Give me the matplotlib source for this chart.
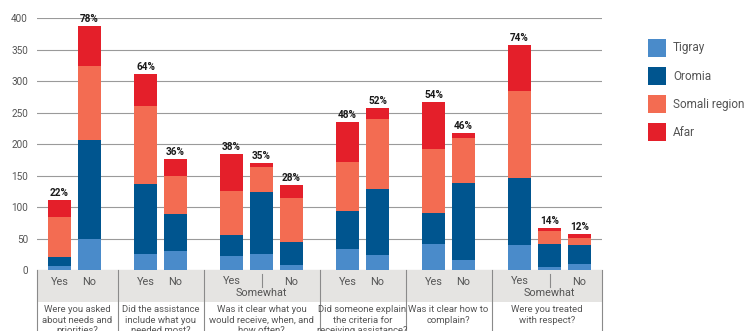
import matplotlib.pyplot as plt
from matplotlib.patches import Rectangle
import numpy as np

plt.rcParams['font.family'] = ['Roboto', 'DejaVu Sans']

# data
questions = [
    "Were you asked\nabout needs and\npriorities?",
    "Did the assistance\ninclude what you\nneeded most?",
    "Was it clear what you\nwould receive, when, and\nhow often?",
    "Did someone explain\nthe criteria for\nreceiving assistance?",
    "Was it clear how to\ncomplain?",
    "Were you treated\nwith respect?",
]
answers = [["Yes", "No"], ["Yes", "No"], ["Yes", "Somewhat", "No"],
           ["Yes", "No"], ["Yes", "No"], ["Yes", "Somewhat", "No"]]
regions = ["Tigray", "Oromia", "Somali region", "Afar"]
tigray = [6, 49, 25, 30, 22, 25, 8, 33, 24, 41, 16, 40, 5, 10]
oromia = [14, 158, 111, 59, 33, 99, 37, 61, 105, 49, 122, 106, 36, 30]
somali = [65, 118, 124, 60, 70, 40, 70, 78, 111, 102, 72, 138, 21, 11]
afar = [26, 63, 52, 27, 59, 6, 20, 63, 18, 75, 8, 73, 5, 6]
pct = ["22%", "78%", "64%", "36%", "38%", "35%", "28%",
       "48%", "52%", "54%", "46%", "74%", "14%", "12%"]

colors = ["#4a8bca", "#00558f", "#f36c52", "#e41f2a"]
series = [tigray, oromia, somali, afar]
txt_col = "#555555"

fig = plt.figure(figsize=(7.48, 3.31), dpi=100)
W, H = 748, 331
ax = fig.add_axes([37 / W, (331 - 270) / H, (602 - 37) / W, (270 - 18.33) / H])

# bar positions: 1 unit between bars, wider gap between question groups
gap = 56 / 30
xs = []
x = 0.0
for ans in answers:
    for a in ans:
        xs.append(x)
        x += 1
    x += gap - 1
xs = np.array(xs)

width = 23 / 30
bottom = np.zeros(len(xs))
for vals, c in zip(series, colors):
    ax.bar(xs, vals, width, bottom=bottom, color=c, zorder=3)
    bottom += np.array(vals)

for xi, tot, p in zip(xs, bottom, pct):
    ax.annotate(p, (xi, tot), xytext=(0, 1.5), textcoords="offset points",
                ha="center", va="bottom", fontsize=7.2, fontweight="bold",
                color="#1a1a1a", clip_on=False)

ax.set_xlim(-0.75, 18.08)
ax.set_ylim(0, 400)
ax.set_yticks(range(0, 401, 50))
ax.tick_params(axis="y", length=0, pad=6.5, labelsize=7.2, labelcolor=txt_col)
ax.set_xticks([])
for s in ax.spines.values():
    s.set_visible(False)
ax.yaxis.grid(True, color="#9a9a9a", linewidth=0.8, zorder=0)
ax.set_axisbelow(True)

# category band under the axis
ax_h = 270 - 18.33
def fy(py):
    return -(py - 270) / ax_h

trans = ax.get_xaxis_transform()
ax.add_patch(Rectangle((0, fy(301.7)), 1, fy(270) - fy(301.7), transform=ax.transAxes,
                       facecolor="#e5e4e2", edgecolor="none", clip_on=False, zorder=1))

# group separators
xmin, xmax = ax.get_xlim()
ends = []
idx = 0
for ans in answers:
    ends.append((xs[idx], xs[idx + len(ans) - 1]))
    idx += len(ans)
seps = [xmin] + [(ends[i][1] + ends[i + 1][0]) / 2 for i in range(len(ends) - 1)] + [xmax]
for sx in seps:
    ax.plot([sx, sx], [fy(270), fy(331)], transform=trans, color="#8a8a8a",
            linewidth=0.8, clip_on=False, zorder=2)

idx = 0
for g, ans in enumerate(answers):
    gx = xs[idx:idx + len(ans)]
    if len(ans) == 3:
        ax.text(gx[0], fy(281.5), ans[0], transform=trans, ha="center", va="center",
                fontsize=7.8, color=txt_col)
        ax.text(gx[2], fy(282), ans[2], transform=trans, ha="center", va="center",
                fontsize=7.8, color=txt_col)
        ax.plot([gx[1], gx[1]], [fy(274), fy(287)], transform=trans, color="#8a8a8a",
                linewidth=0.8, clip_on=False, zorder=2)
        ax.text(gx[1], fy(293), ans[1], transform=trans, ha="center", va="center",
                fontsize=7.8, color=txt_col)
    else:
        for xa, a in zip(gx, ans):
            ax.text(xa, fy(282), a, transform=trans, ha="center", va="center",
                    fontsize=7.8, color=txt_col)
    ax.text((seps[g] + seps[g + 1]) / 2, fy(305.5), questions[g], transform=trans,
            ha="center", va="top", fontsize=6.8, color=txt_col, linespacing=1.18)
    idx += len(ans)

# legend
for i, (name, c) in enumerate(zip(regions, colors)):
    y0 = 39 + 28 * i
    fig.patches.append(Rectangle((648 / W, 1 - (y0 + 18) / H), 18 / W, 18 / H,
                                 transform=fig.transFigure, facecolor=c, edgecolor="none"))
    fig.text(673 / W, 1 - (y0 + 9) / H, name, ha="left", va="center",
             fontsize=8.5, color=txt_col)

fig.savefig("out.png", dpi=100)
